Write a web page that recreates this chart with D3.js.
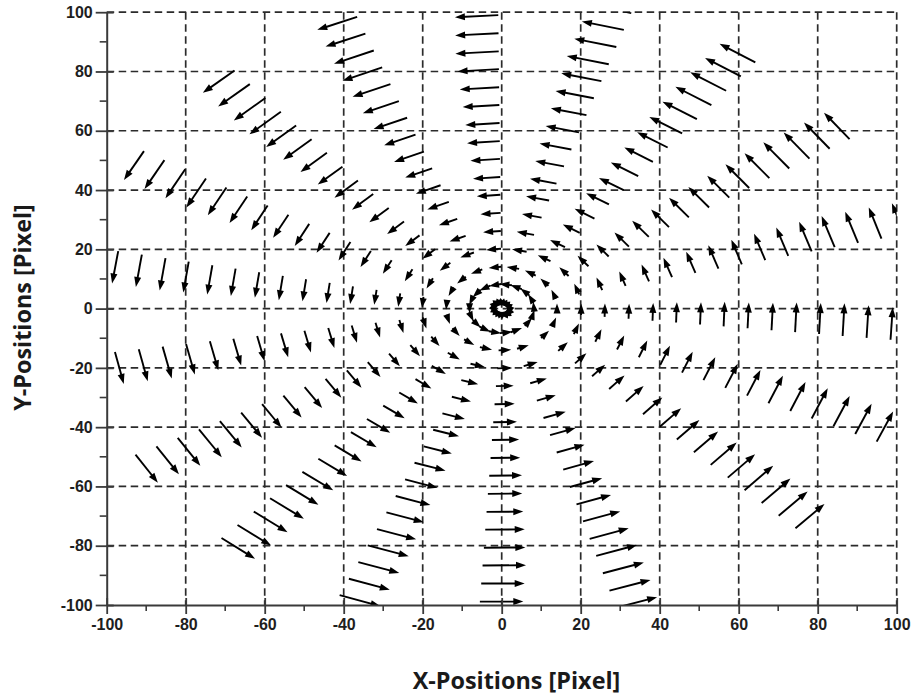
<!DOCTYPE html>
<html>
<head>
<meta charset="utf-8">
<script src="https://cdn.jsdelivr.net/npm/d3@7"></script>
<style>
  html, body { margin: 0; padding: 0; background: #fff; }
  svg { display: block; }
</style>
</head>
<body>
<svg id="chart" width="911" height="697"></svg>
<script>
// Sample spokes of the displacement field, degrees counter-clockwise from +x
const spokeAnglesDeg = [-6.1, 13.8, 33.0, 52.3, 71.8, 90.5, 110.4, 130.1, 149.6,
                        168.7, 188.5, 208.0, 227.5, 247.0, 266.8, 286.0, 315.1, 334.7];
// Radius of each sample ring along a spoke (pixels)
const ringRadii = [1.8, 8.3, 14.1, 20.2, 26.2, 32.3, 38.4, 44.4, 50.5,
                   56.5, 62.6, 68.7, 74.7, 80.8, 86.8, 92.9, 99.0, 105.0];
// Displacement length at each ring (pixels), rotating counter-clockwise
const ringShift = [1.6, 3.2, 3.2, 3.8, 4.5, 5.1, 6.0, 6.9, 7.5,
                   8.3, 8.7, 9.3, 10.0, 10.5, 11.0, 11.0, 11.0, 11.0];
// Axis ticks
const majorTicks = [-100, -80, -60, -40, -20, 0, 20, 40, 60, 80, 100];
const minorTicks = [-90, -70, -50, -30, -10, 10, 30, 50, 70, 90];
const gridTicks = [-80, -60, -40, -20, 0, 20, 40, 60, 80, 100];
const xTitle = "X-Positions [Pixel]";
const yTitle = "Y-Positions [Pixel]";

(function draw() {
  const svg = d3.select("#chart");
  const pL = 106.7, pR = 896.7, pT = 12.2, pB = 605;
  const x = d3.scaleLinear().domain([-100, 100]).range([pL, pR]);
  const y = d3.scaleLinear().domain([-100, 100]).range([pB, pT]);

  svg.append("rect").attr("width", 911).attr("height", 697).attr("fill", "#fff");

  // dashed grid (also closes the top and right edges)
  const grid = svg.append("g")
    .attr("stroke", "#2b2b2b").attr("stroke-width", 1.7)
    .attr("stroke-dasharray", "7.5,4.5").attr("fill", "none");
  grid.selectAll("line.v").data(gridTicks).join("line").attr("class", "v")
    .attr("x1", d => x(d)).attr("x2", d => x(d)).attr("y1", pT).attr("y2", pB);
  grid.selectAll("line.h").data(gridTicks).join("line").attr("class", "h")
    .attr("y1", d => y(d)).attr("y2", d => y(d)).attr("x1", pL).attr("x2", pR);

  // arrows
  svg.append("clipPath").attr("id", "plotClip").append("rect")
    .attr("x", pL).attr("y", pT).attr("width", pR - pL).attr("height", pB - pT);

  const arrows = [];
  spokeAnglesDeg.forEach(a => {
    const t = a * Math.PI / 180;
    ringRadii.forEach((r, k) => {
      const L = ringShift[k];
      const phi = 2 * Math.asin(Math.min(1, L / (2 * r)));
      arrows.push({
        x0: r * Math.cos(t), y0: r * Math.sin(t),
        x1: r * Math.cos(t + phi), y1: r * Math.sin(t + phi)
      });
    });
  });

  const headLen = 10, headHalf = 3.5;
  const ag = svg.append("g").attr("clip-path", "url(#plotClip)");
  arrows.forEach(d => {
    const px0 = x(d.x0), py0 = y(d.y0), px1 = x(d.x1), py1 = y(d.y1);
    const dx = px1 - px0, dy = py1 - py0;
    const len = Math.hypot(dx, dy);
    const ux = dx / len, uy = dy / len;
    const bx = px1 - ux * headLen, by = py1 - uy * headLen;
    const back = Math.min(headLen * 0.6, len);
    ag.append("line")
      .attr("x1", px0).attr("y1", py0)
      .attr("x2", px1 - ux * back).attr("y2", py1 - uy * back)
      .attr("stroke", "#000").attr("stroke-width", 1.9);
    const pts = [[px1, py1], [bx - uy * headHalf, by + ux * headHalf], [bx + uy * headHalf, by - ux * headHalf]];
    ag.append("path").attr("d", "M" + pts.map(p => p.join(",")).join("L") + "Z")
      .attr("fill", "#000");
  });

  // axes
  const axisColor = "#3a3a3a";
  const fmt = d => String(d);
  const xAxis = d3.axisBottom(x).tickValues(majorTicks).tickSizeInner(9).tickSizeOuter(0).tickPadding(4)
    .tickFormat(fmt);
  const yAxis = d3.axisLeft(y).tickValues(majorTicks).tickSizeInner(11).tickSizeOuter(0).tickPadding(3)
    .tickFormat(fmt);

  const gx = svg.append("g").attr("transform", `translate(0,${pB})`).call(xAxis);
  const gy = svg.append("g").attr("transform", `translate(${pL},0)`).call(yAxis);
  [gx, gy].forEach(g => {
    g.select(".domain").attr("stroke", axisColor).attr("stroke-width", 2);
    g.selectAll(".tick line").attr("stroke", axisColor).attr("stroke-width", 1.8);
    g.selectAll(".tick text")
      .attr("fill", "#1e1e1e")
      .style("font-family", "'Liberation Sans', Arial, sans-serif")
      .style("font-size", "16px").style("font-weight", "bold");
  });
  // major ticks also reach a little into the plot
  gx.selectAll(".tick line").attr("y1", -7);
  gy.selectAll(".tick line").attr("x1", 7);
  gx.selectAll(".tick text").attr("dy", "0.72em");

  // minor ticks
  svg.append("g").selectAll("line").data(minorTicks).join("line")
    .attr("x1", d => x(d)).attr("x2", d => x(d)).attr("y1", pB).attr("y2", pB + 6)
    .attr("stroke", axisColor).attr("stroke-width", 1.6);
  svg.append("g").selectAll("line").data(minorTicks).join("line")
    .attr("y1", d => y(d)).attr("y2", d => y(d)).attr("x1", pL).attr("x2", pL - 7)
    .attr("stroke", axisColor).attr("stroke-width", 1.6);

  // axis titles
  svg.append("text")
    .attr("x", 516.5).attr("y", 688.5)
    .attr("text-anchor", "middle")
    .attr("fill", "#1a1a1a")
    .style("font-family", "'Open Sans', sans-serif")
    .style("font-size", "23.4px").style("font-weight", "bold")
    .text(xTitle);
  svg.append("text")
    .attr("transform", "translate(30.5,307.5) rotate(-90)")
    .attr("text-anchor", "middle")
    .attr("fill", "#1a1a1a")
    .style("font-family", "'Open Sans', sans-serif")
    .style("font-size", "23.4px").style("font-weight", "bold")
    .text(yTitle);
})();
</script>
</body>
</html>
